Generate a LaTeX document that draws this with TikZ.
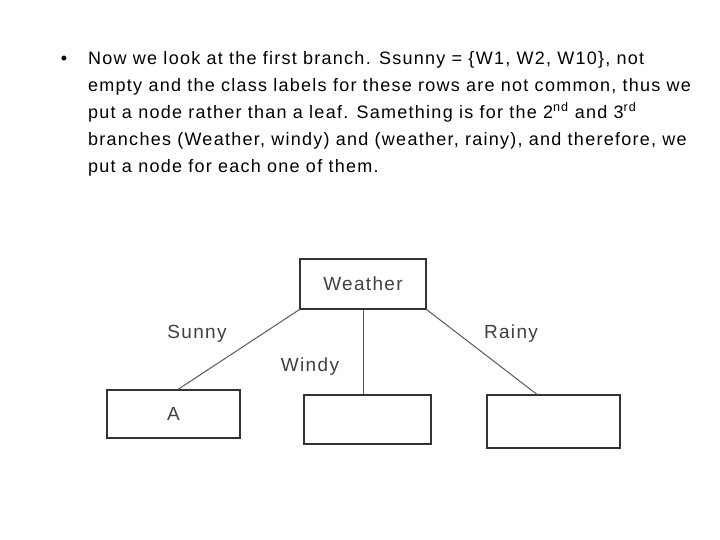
\documentclass[tikz,border=0pt]{standalone}
\usepackage{fontspec}
\setmainfont{Liberation Sans}[LetterSpace=7]
\usetikzlibrary{positioning}

\tikzset{
	box/.style={draw=black!80,line width=1.2pt,inner sep=0pt},
	branch/.style={draw=black!65,line width=1pt},
	lbl/.style={font=\fontsize{19}{22}\selectfont,text=black!75}
}

\begin{document}
\begin{tikzpicture}[x=1pt,y=-1pt]
	\useasboundingbox (0,0) rectangle (720,540);

	% the text above the tree
	\node[inner sep=0pt,font=\fontsize{18}{27}\selectfont] (bullet) at (64,60) {•};
	\node[anchor=north west,inner sep=0pt,align=left,font=\fontsize{18}{27}\selectfont] (txt) at (88,51)
		{Now we look at the first branch. Ssunny = \{W1, W2, W10\}, not\\
		empty and the class labels for these rows are not common, thus we\\
		put a node rather than a leaf. Samething is for the 2\textsuperscript{nd} and 3\textsuperscript{rd}\\
		branches (Weather, windy) and (weather, rainy), and therefore, we\\
		put a node for each one of them.};

	% the tree
	\node[box,minimum width=126pt,minimum height=50pt,lbl] (weather) at (363,284) {Weather};
	\node[box,minimum width=133pt,minimum height=48pt,lbl] (sunnyleaf) at (173.5,414) {A};
	\node[box,minimum width=127pt,minimum height=49pt] (windynode) at (367.5,419.5) {};
	\node[box,minimum width=133pt,minimum height=53pt] (rainynode) at (553.5,421.5) {};

	\coordinate (sunnyend) at ([xshift=4.5pt]sunnyleaf.north);
	\coordinate (rainyend) at ([xshift=-16.5pt]rainynode.north);

	\draw[branch] (weather.south west) -- (sunnyend);
	\draw[branch] (weather.south) -- (weather.south |- windynode.north);
	\draw[branch] (weather.south east) -- (rainyend);

	% branch labels
	\node[lbl] (sunny) at (197,334) {Sunny};
	\node[lbl] (windy) at (310,367) {Windy};
	\node[lbl] (rainy) at (511,334) {Rainy};
\end{tikzpicture}
\end{document}
